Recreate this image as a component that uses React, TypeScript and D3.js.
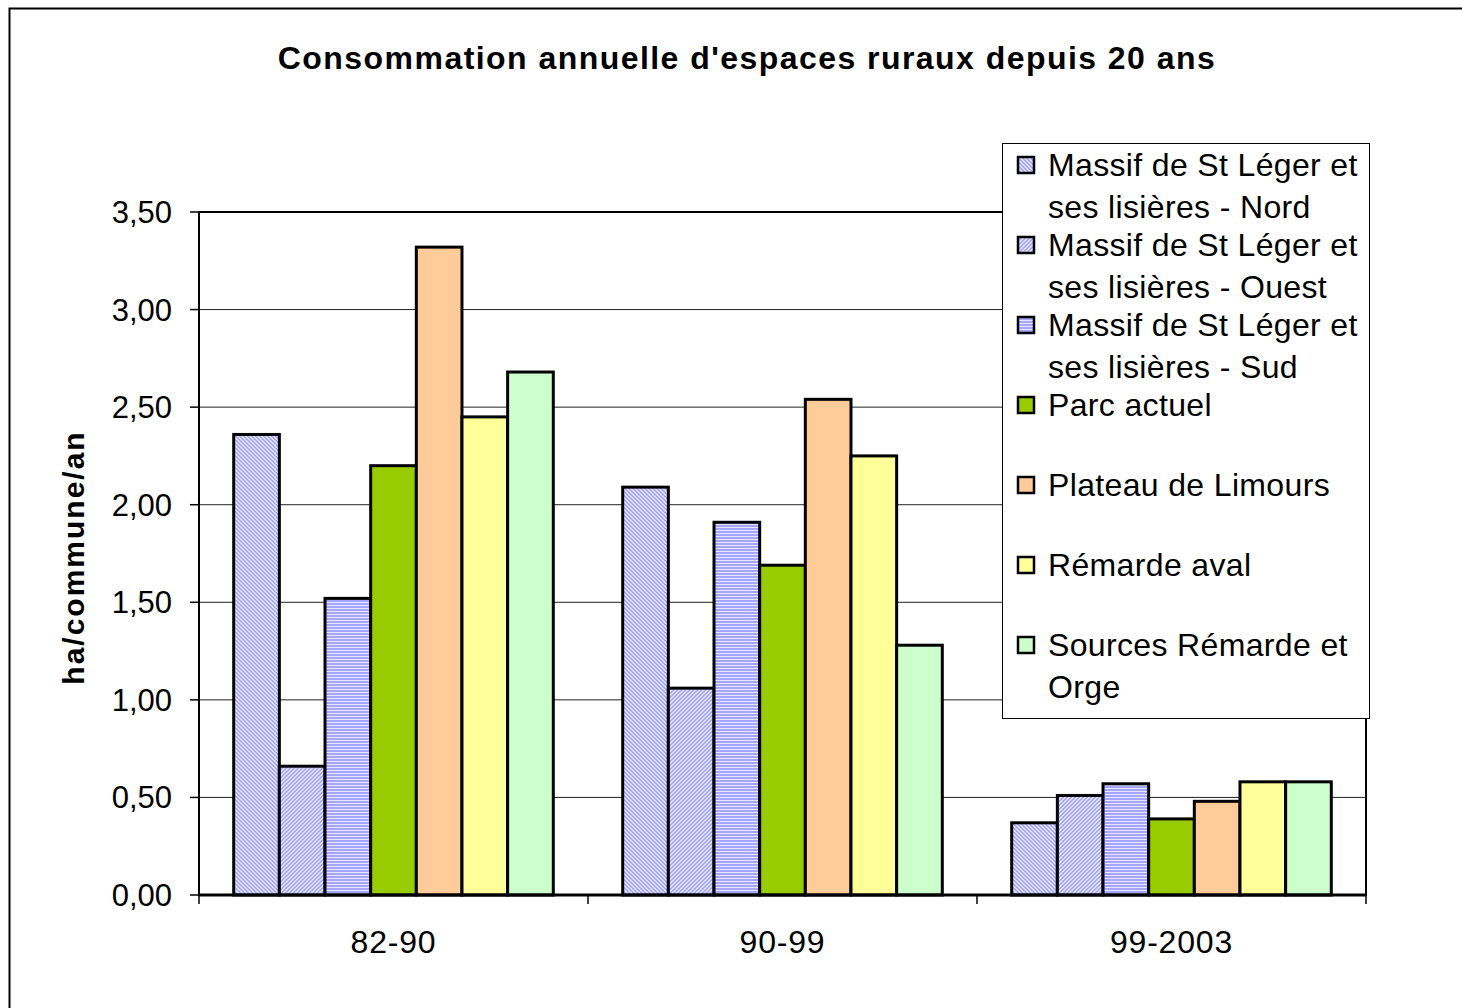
import React from 'react'
import { scaleBand, scaleLinear } from 'd3'

const periods = ['82-90', '90-99', '99-2003']

const seriesNames = [
  'Massif de St Léger et ses lisières - Nord',
  'Massif de St Léger et ses lisières - Ouest',
  'Massif de St Léger et ses lisières - Sud',
  'Parc actuel',
  'Plateau de Limours',
  'Rémarde aval',
  'Sources Rémarde et Orge',
]

// legend lines as wrapped in the original
const legendLines = [
  ['Massif de St Léger et', 'ses lisières - Nord'],
  ['Massif de St Léger et', 'ses lisières - Ouest'],
  ['Massif de St Léger et', 'ses lisières - Sud'],
  ['Parc actuel'],
  ['Plateau de Limours'],
  ['Rémarde aval'],
  ['Sources Rémarde et', 'Orge'],
]

const nord = [2.36, 2.09, 0.37]
const ouest = [0.66, 1.06, 0.51]
const sud = [1.52, 1.91, 0.57]
const parc = [2.2, 1.69, 0.39]
const plateau = [3.32, 2.54, 0.48]
const remardeAval = [2.45, 2.25, 0.58]
const sources = [2.68, 1.28, 0.58]

const yTicks = [0, 0.5, 1, 1.5, 2, 2.5, 3, 3.5]

const fills = ['url(#pNord)', 'url(#pOuest)', 'url(#pSud)', '#99CC00', '#FFCC99', '#FFFF99', '#CCFFCC']

const values = [nord, ouest, sud, parc, plateau, remardeAval, sources]

export default function App() {
  const left = 199, right = 1366, top = 212, bottom = 895

  const x0 = scaleBand().domain(periods).range([left, right])
  const x1 = scaleBand().domain(seriesNames).range([0, x0.bandwidth()]).paddingOuter(0.76)
  const y = scaleLinear().domain([0, 3.5]).range([bottom, top])

  const fmt = (v: number) => v.toFixed(2).replace('.', ',')
  const font = 'Liberation Sans, Arial, sans-serif'

  return (
    <svg width={1462} height={1008} style={{ position: 'absolute', left: 0, top: 0 }} fontFamily={font}>
      <defs>
        <pattern id="pNord" width="4" height="4" patternUnits="userSpaceOnUse">
          <rect width="4" height="4" fill="#ffffff" />
          <rect x="0" y="0" width="2" height="1" fill="#9999FF" />
          <rect x="1" y="1" width="2" height="1" fill="#9999FF" />
          <rect x="2" y="2" width="2" height="1" fill="#9999FF" />
          <rect x="3" y="3" width="1" height="1" fill="#9999FF" />
          <rect x="0" y="3" width="1" height="1" fill="#9999FF" />
          <rect x="0" y="0" width="4" height="4" fill="#b8b8ff" opacity="0.45" />
        </pattern>
        <pattern id="pOuest" width="4" height="4" patternUnits="userSpaceOnUse">
          <rect width="4" height="4" fill="#ffffff" />
          <rect x="2" y="0" width="2" height="1" fill="#9999FF" />
          <rect x="1" y="1" width="2" height="1" fill="#9999FF" />
          <rect x="0" y="2" width="2" height="1" fill="#9999FF" />
          <rect x="3" y="3" width="1" height="1" fill="#9999FF" />
          <rect x="0" y="3" width="1" height="1" fill="#9999FF" />
          <rect x="0" y="0" width="4" height="4" fill="#b8b8ff" opacity="0.45" />
        </pattern>
        <pattern id="pSud" width="4" height="3" patternUnits="userSpaceOnUse">
          <rect width="4" height="3" fill="#a6a6ff" />
          <rect x="0" y="2" width="4" height="1" fill="#e6e6ff" />
        </pattern>
      </defs>

      {/* outer chart border */}
      <rect x={9.5} y={8.5} width={1470} height={1010} fill="#fff" stroke="#000" strokeWidth={2} />

      <text x={747} y={69} textAnchor="middle" fontSize={32} fontWeight="bold" letterSpacing={1.45}>
        Consommation annuelle d'espaces ruraux depuis 20 ans
      </text>

      {/* gridlines */}
      {yTicks.filter(t => t > 0).map(t => (
        <line key={t} x1={left} x2={right} y1={y(t)} y2={y(t)} stroke="#222" strokeWidth={1} />
      ))}

      {/* bars */}
      {periods.map((p, i) => (
        <g key={p} transform={`translate(${x0(p)},0)`}>
          {seriesNames.map((s, j) => (
            <rect key={s} x={x1(s)} y={y(values[j][i])} width={x1.bandwidth()}
              height={bottom - y(values[j][i])} fill={fills[j]} stroke="#000" strokeWidth={3} />
          ))}
        </g>
      ))}

      {/* plot frame */}
      <rect x={left} y={top} width={right - left} height={bottom - top} fill="none" stroke="#000" strokeWidth={2} />
      <line x1={left} x2={right} y1={bottom} y2={bottom} stroke="#000" strokeWidth={3} />

      {/* y axis */}
      {yTicks.map(t => (
        <g key={t}>
          <line x1={left - 9} x2={left} y1={y(t)} y2={y(t)} stroke="#000" strokeWidth={1.5} />
          <text x={172} y={y(t) + 11} textAnchor="end" fontSize={31}>{fmt(t)}</text>
        </g>
      ))}
      <text transform={`translate(84,${(top + bottom) / 2 + 4}) rotate(-90)`} textAnchor="middle" fontSize={30} fontWeight="bold" letterSpacing={2}>
        ha/commune/an
      </text>

      {/* x axis */}
      {[...periods.map(p => x0(p) as number), right].map((v, i) => (
        <line key={i} x1={v} x2={v} y1={bottom} y2={bottom + 9} stroke="#000" strokeWidth={1.5} />
      ))}
      {periods.map(p => (
        <text key={p} x={(x0(p) as number) + x0.bandwidth() / 2} y={953} textAnchor="middle" fontSize={32} letterSpacing={0.8}>{p}</text>
      ))}

      {/* legend */}
      <rect x={1002.5} y={143.5} width={367} height={575} fill="#fff" stroke="#000" strokeWidth={1} />
      {legendLines.map((lines, i) => {
        const cy = 165 + i * 80
        return (
          <g key={i}>
            <rect x={1018} y={cy - 8} width={16} height={16} fill={fills[i]} stroke="#000" strokeWidth={2.5} />
            {lines.map((l, k) => (
              <text key={k} x={1048} y={cy + 11 + k * 42} fontSize={32} letterSpacing={0.35}>{l}</text>
            ))}
          </g>
        )
      })}
    </svg>
  )
}
